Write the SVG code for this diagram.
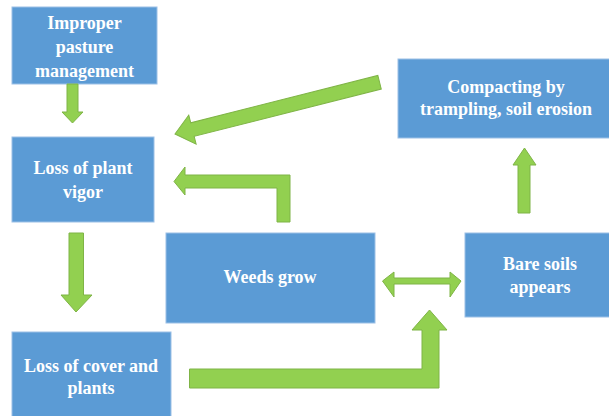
<svg xmlns="http://www.w3.org/2000/svg" width="609" height="416" viewBox="0 0 609 416">
<style>
.box{fill:#5b9bd5;stroke:#9cc0e6;stroke-width:1}
.t{font-family:"Liberation Serif","Times New Roman",serif;font-weight:bold;font-size:18px;fill:#ffffff;text-anchor:middle}
.arr{fill:#92d050;stroke:#7fb446;stroke-width:1;stroke-linejoin:miter}
</style>
<rect width="609" height="416" fill="#ffffff"/>
<g id="n1"><rect class="box" x="12" y="7" width="145" height="77"/>
<text class="t" x="84.5" y="29">Improper</text><text class="t" x="84.5" y="53">pasture</text><text class="t" x="84.5" y="77">management</text></g>
<g id="n2"><rect class="box" x="12" y="137" width="142" height="85"/>
<text class="t" x="83" y="174">Loss of plant</text><text class="t" x="83" y="198">vigor</text></g>
<g id="n3"><rect class="box" x="12" y="332" width="159" height="90"/>
<text class="t" x="91" y="372">Loss of cover and</text><text class="t" x="91" y="394">plants</text></g>
<g id="n4"><rect class="box" x="166" y="233" width="209" height="90"/>
<text class="t" x="270" y="283">Weeds grow</text></g>
<g id="n5"><rect class="box" x="465" y="233" width="150" height="84"/>
<text class="t" x="540" y="270">Bare soils</text><text class="t" x="540" y="293">appears</text></g>
<g id="n6"><rect class="box" x="398" y="59" width="217" height="79"/>
<text class="t" x="506" y="93">Compacting by</text><text class="t" x="506" y="115">trampling, soil erosion</text></g>
<g id="connectors">
<polygon class="arr" points="67,84 78,84 78,112 83,112 72.5,123 62,112 67,112"/>
<polygon class="arr" points="69,233 83.5,233 83.5,295 92,295 76,312 61,295 69,295"/>
<polygon class="arr" transform="translate(175,134) rotate(-14.2)" points="0,0 18,-15 18,-7 211,-7 211,7 18,7 18,15"/>
<polygon class="arr" points="290,222 277,222 277,188 185,188 185,195 174,181.5 185,167 185,175 290,175"/>
<polygon class="arr" points="382.5,281 394,272 394,278 450,278 450,272 461,281 450,297 450,284 394,284 394,297" />
<polygon class="arr" points="189.5,369 422,369 422,330 412,330 429.5,310 447,330 439,330 439,388 189.5,388"/>
<polygon class="arr" points="518,213 530,213 530,165 536,165 524.5,148 513,165 518,165"/>
</g>
</svg>
